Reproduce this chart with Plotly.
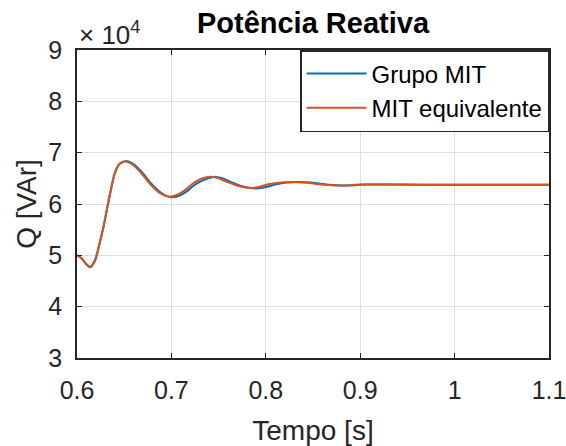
import plotly.graph_objects as go

# Time [s] and reactive power [VAr]
t_equiv = [0.600, 0.605, 0.610, 0.614, 0.619, 0.624, 0.628, 0.635, 0.640, 0.645, 0.651,
           0.657, 0.663, 0.670, 0.677, 0.688, 0.698, 0.705, 0.713, 0.720, 0.727, 0.735,
           0.742, 0.750, 0.759, 0.768, 0.776, 0.783, 0.792, 0.804, 0.816, 0.829, 0.841,
           0.854, 0.866, 0.879, 0.891, 0.903, 0.930, 0.960, 1.000, 1.050, 1.100]
q_equiv = [50000, 49400, 48300, 47800, 49100, 52500, 55600, 62100, 66000, 67800, 68300,
           67900, 67000, 65600, 64000, 62100, 61400, 61700, 62500, 63600, 64500, 65100,
           65300, 65000, 64300, 63700, 63300, 63100, 63300, 63900, 64200, 64300, 64200,
           63900, 63700, 63600, 63700, 63800, 63800, 63750, 63750, 63750, 63750]

t_grupo = [0.600, 0.605, 0.610, 0.614, 0.619, 0.624, 0.628, 0.635, 0.640, 0.645, 0.652,
           0.658, 0.664, 0.671, 0.678, 0.689, 0.700, 0.708, 0.716, 0.723, 0.731, 0.739,
           0.746, 0.754, 0.763, 0.772, 0.781, 0.789, 0.798, 0.810, 0.822, 0.835, 0.847,
           0.860, 0.872, 0.885, 0.897, 0.909, 0.935, 0.965, 1.000, 1.050, 1.100]
q_grupo = [50000, 49400, 48200, 47700, 48900, 52300, 55400, 61900, 65900, 67800, 68400,
           68000, 67100, 65700, 64100, 62200, 61300, 61600, 62400, 63500, 64400, 65000,
           65300, 65000, 64300, 63600, 63200, 63000, 63200, 63800, 64200, 64300, 64200,
           63900, 63700, 63600, 63700, 63800, 63800, 63750, 63750, 63750, 63750]

x_ticks = [0.6, 0.7, 0.8, 0.9, 1.0, 1.1]
x_ticktext = ["0.6", "0.7", "0.8", "0.9", "1", "1.1"]
y_ticks = [30000, 40000, 50000, 60000, 70000, 80000, 90000]
y_ticktext = ["3", "4", "5", "6", "7", "8", "9"]

FONT = "Liberation Sans, Arial, Helvetica, sans-serif"
TXT = "#262626"

fig = go.Figure()
fig.add_trace(go.Scatter(x=t_grupo, y=q_grupo, mode="lines", name="Grupo MIT",
                         line=dict(color="#0072BD", width=2, shape="spline", smoothing=0.8)))
fig.add_trace(go.Scatter(x=t_equiv, y=q_equiv, mode="lines", name="MIT equivalente",
                         line=dict(color="#D95319", width=2, shape="spline", smoothing=0.8)))

axis_common = dict(showline=True, linecolor=TXT, linewidth=1.5, mirror="allticks",
                   ticks="inside", ticklen=5, tickwidth=1.2, tickcolor=TXT,
                   showgrid=True, gridcolor="#DFDFDF", gridwidth=1, zeroline=False,
                   automargin=False, ticklabeloverflow="allow",
                   tickfont=dict(family=FONT, size=25, color=TXT))

fig.update_layout(
    width=566, height=446,
    margin=dict(l=77, r=17, t=50, b=88),
    paper_bgcolor="white", plot_bgcolor="white",
    font=dict(family=FONT, color=TXT),
    title=dict(text="<b>Potência Reativa</b>", x=0.5, xref="paper", xanchor="center",
               y=0.971, yref="container", yanchor="top", automargin=False,
               font=dict(family=FONT, size=29, color="black")),
    xaxis=dict(range=[0.6, 1.1], tickvals=x_ticks, ticktext=x_ticktext,
               ticklabelstandoff=9,
               title=dict(text="Tempo [s]", font=dict(family=FONT, size=28, color=TXT), standoff=19),
               **axis_common),
    yaxis=dict(range=[30000, 90000], tickvals=y_ticks, ticktext=y_ticktext,
               ticklabelstandoff=8,
               title=dict(text="Q [VAr]", font=dict(family=FONT, size=28, color=TXT), standoff=4),
               **axis_common),
    legend=dict(x=1, xanchor="right", y=1, yanchor="top", bgcolor="white",
                bordercolor=TXT, borderwidth=1.5,
                font=dict(family=FONT, size=24, color="black"),
                tracegroupgap=0, itemwidth=60),
    showlegend=True,
    annotations=[dict(text="× 10<sup>4</sup>", xref="paper", yref="paper", x=0.0, y=1.0,
                      xanchor="left", yanchor="bottom", showarrow=False, xshift=0, yshift=-2,
                      font=dict(family=FONT, size=26, color=TXT))],
)

fig.write_html("out.html", config={"displayModeBar": False},
               post_script="document.body.style.margin='0';document.body.style.overflow='hidden';")
